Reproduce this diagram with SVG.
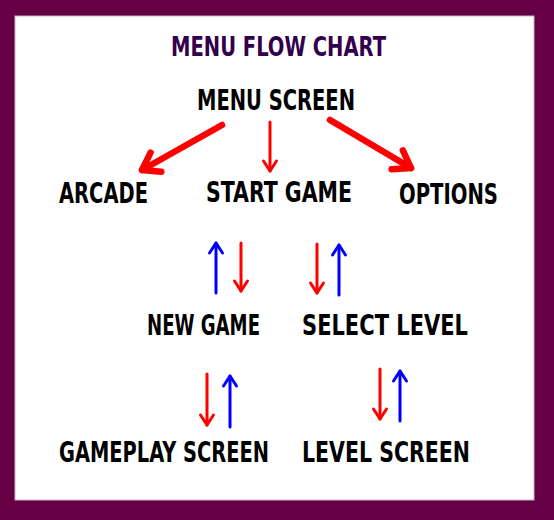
<svg xmlns="http://www.w3.org/2000/svg" width="554" height="520" viewBox="0 0 554 520">
<style>
.lbl{font-family:"Liberation Sans Narrow","DejaVu Sans Condensed","Liberation Sans",sans-serif;font-weight:bold;font-size:28px;fill:#000}
.title{fill:#33004d;font-size:27px}
.thin{fill:none;stroke-width:3;stroke-linecap:round}
.thick{fill:none;stroke:#ff0000;stroke-width:6.5;stroke-linecap:round}
.r{stroke:#ff0000}
.b{stroke:#0000ff}
</style>
<defs>
<marker id="hr" markerUnits="userSpaceOnUse" markerWidth="24" markerHeight="24" viewBox="-12 -12 24 24" refX="0" refY="0" orient="auto" overflow="visible">
<path d="M-10,-6.5 L0,0 L-10,6.5" fill="none" stroke="#ff0000" stroke-width="3" stroke-linecap="round" stroke-linejoin="round"/>
</marker>
<marker id="hb" markerUnits="userSpaceOnUse" markerWidth="24" markerHeight="24" viewBox="-12 -12 24 24" refX="0" refY="0" orient="auto" overflow="visible">
<path d="M-10,-6.5 L0,0 L-10,6.5" fill="none" stroke="#0000ff" stroke-width="3" stroke-linecap="round" stroke-linejoin="round"/>
</marker>
<marker id="hk" markerUnits="userSpaceOnUse" markerWidth="44" markerHeight="44" viewBox="-22 -22 44 44" refX="0" refY="0" orient="auto" overflow="visible">
<path d="M-16,-11 L0,0 L-16,11" fill="none" stroke="#ff0000" stroke-width="6.5" stroke-linecap="round" stroke-linejoin="round"/>
</marker>
</defs>
<rect x="0" y="0" width="554" height="520" fill="#660044"/>
<rect x="15" y="16" width="519" height="484" fill="#ffffff" stroke="#c8b4c8" stroke-width="1"/>
<text class="lbl title" transform="translate(171,56) scale(0.8,1)" textLength="268.75" lengthAdjust="spacingAndGlyphs">MENU FLOW CHART</text>
<g id="menu-screen"><text class="lbl" transform="translate(197,110) scale(0.8,1)" textLength="197.5" lengthAdjust="spacingAndGlyphs">MENU SCREEN</text></g>
<g id="arcade"><text class="lbl" transform="translate(59,203) scale(0.8,1)" textLength="111.25" lengthAdjust="spacingAndGlyphs">ARCADE</text></g>
<g id="start-game"><text class="lbl" transform="translate(206,202) scale(0.8,1)" textLength="182.5" lengthAdjust="spacingAndGlyphs">START GAME</text></g>
<g id="options"><text class="lbl" transform="translate(399,204) scale(0.8,1)" textLength="123.75" lengthAdjust="spacingAndGlyphs">OPTIONS</text></g>
<g id="new-game"><text class="lbl" transform="translate(147,335) scale(0.8,1)" textLength="141.25" lengthAdjust="spacingAndGlyphs">NEW GAME</text></g>
<g id="select-level"><text class="lbl" transform="translate(302,335) scale(0.8,1)" textLength="207.5" lengthAdjust="spacingAndGlyphs">SELECT LEVEL</text></g>
<g id="gameplay-screen"><text class="lbl" transform="translate(59,462) scale(0.8,1)" textLength="262.5" lengthAdjust="spacingAndGlyphs">GAMEPLAY SCREEN</text></g>
<g id="level-screen"><text class="lbl" transform="translate(302,462) scale(0.8,1)" textLength="210" lengthAdjust="spacingAndGlyphs">LEVEL SCREEN</text></g>
<g id="connectors">
<line class="thick" x1="222" y1="125" x2="142" y2="170" marker-end="url(#hk)"/>
<line class="thin r" x1="270" y1="122" x2="270" y2="171" marker-end="url(#hr)"/>
<line class="thick" x1="330" y1="120" x2="411" y2="168" marker-end="url(#hk)"/>
<line class="thin b" x1="216" y1="293" x2="216" y2="243" marker-end="url(#hb)"/>
<line class="thin r" x1="241" y1="243" x2="241" y2="291" marker-end="url(#hr)"/>
<line class="thin r" x1="317" y1="244" x2="317" y2="293" marker-end="url(#hr)"/>
<line class="thin b" x1="339" y1="295" x2="339" y2="245" marker-end="url(#hb)"/>
<line class="thin r" x1="207" y1="374" x2="207" y2="425" marker-end="url(#hr)"/>
<line class="thin b" x1="230" y1="427" x2="230" y2="376" marker-end="url(#hb)"/>
<line class="thin r" x1="380" y1="369" x2="380" y2="419" marker-end="url(#hr)"/>
<line class="thin b" x1="400" y1="421" x2="400" y2="371" marker-end="url(#hb)"/>
</g>
</svg>
